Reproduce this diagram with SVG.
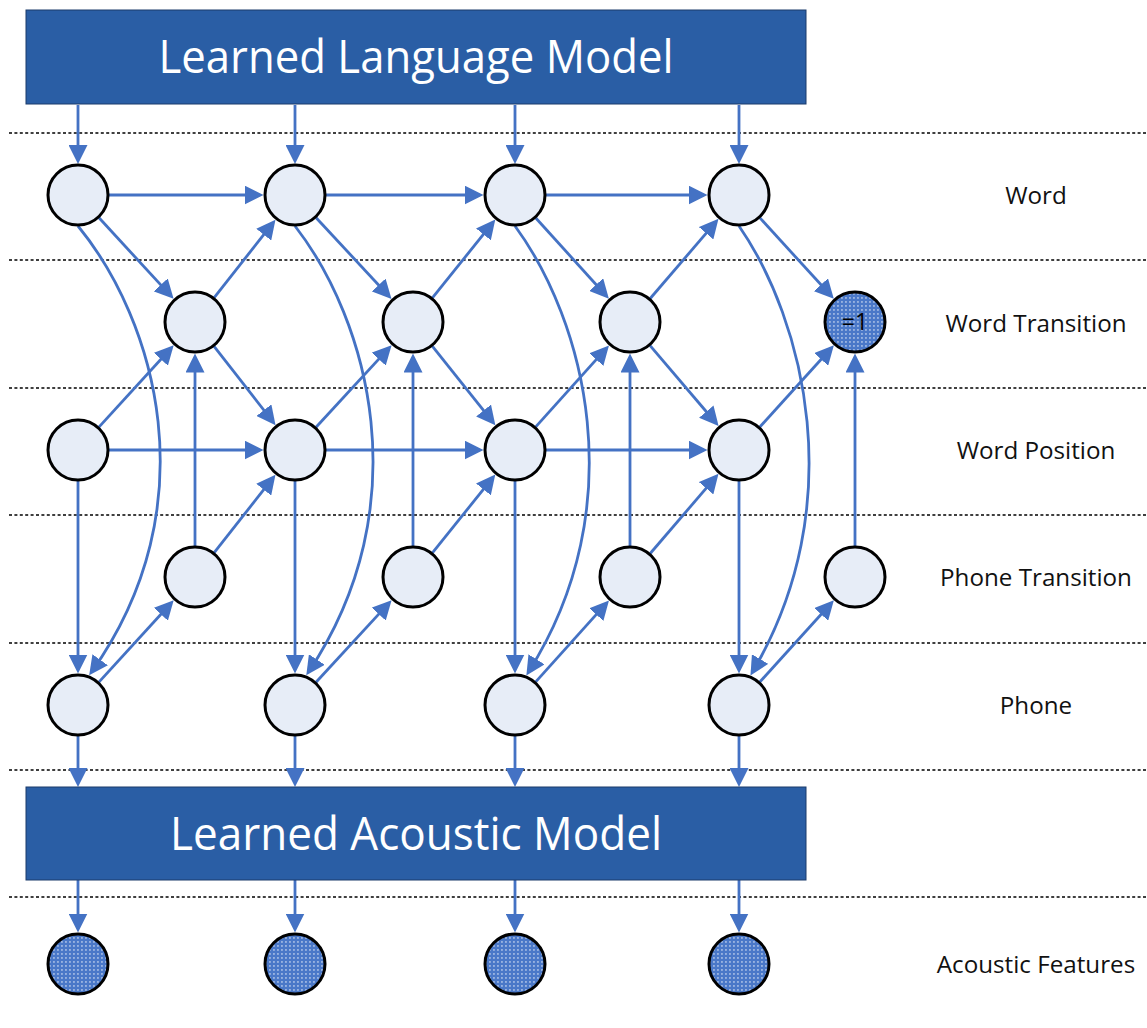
<svg xmlns="http://www.w3.org/2000/svg" width="1147" height="1028" viewBox="0 0 1147 1028">
  <style>
    .model { fill: #2A5EA5; stroke: #1B3B6B; stroke-width: 1; }
    .model-label { font-family: "Open Sans", "Liberation Sans", sans-serif; font-size: 45px; fill: #FFFFFF; text-anchor: middle; }
    .row-label { font-family: "Open Sans", "Liberation Sans", sans-serif; font-size: 24.2px; fill: #111111; text-anchor: middle; }
    .sep { stroke: #000000; stroke-width: 1.5; stroke-dasharray: 3 2.4; fill: none; }
    .node { fill: #E7EDF7; stroke: #000000; stroke-width: 3; }
    .obs { fill: url(#dots); stroke: #000000; stroke-width: 3; }
    .edge { stroke: #4472C4; stroke-width: 2.8; fill: none; marker-end: url(#ah); }
    .fixed { font-family: "Open Sans", "Liberation Sans", sans-serif; font-size: 23px; fill: #000000; text-anchor: middle; }
  </style>
  <defs>
    <marker id="ah" markerUnits="userSpaceOnUse" viewBox="0 0 19 19" markerWidth="19" markerHeight="19" refX="15" refY="9.5" orient="auto">
      <path d="M0,0 L19,9.5 L0,19 z" fill="#4472C4"/>
    </marker>
    <pattern id="dots" width="4" height="4" patternUnits="userSpaceOnUse">
      <rect width="4" height="4" fill="#4A78C8"/>
      <rect x="1.2" y="1.2" width="1.5" height="1.5" fill="#C3D3EE"/>
    </pattern>
  </defs>

  <rect width="1147" height="1028" fill="#FFFFFF"/>

  <!-- row separators -->
  <g id="separators">
    <line class="sep" x1="9" y1="133" x2="1147" y2="133"/>
    <line class="sep" x1="9" y1="260" x2="1147" y2="260"/>
    <line class="sep" x1="9" y1="388" x2="1147" y2="388"/>
    <line class="sep" x1="9" y1="515" x2="1147" y2="515"/>
    <line class="sep" x1="9" y1="643" x2="1147" y2="643"/>
    <line class="sep" x1="9" y1="770" x2="1147" y2="770"/>
    <line class="sep" x1="9" y1="897" x2="1147" y2="897"/>
  </g>

  <!-- row labels -->
  <g id="row-labels">
    <text class="row-label" x="1036" y="204">Word</text>
    <text class="row-label" x="1036" y="332">Word Transition</text>
    <text class="row-label" x="1036" y="459">Word Position</text>
    <text class="row-label" x="1036" y="586">Phone Transition</text>
    <text class="row-label" x="1036" y="714">Phone</text>
    <text class="row-label" x="1036" y="973">Acoustic Features</text>
  </g>

  <g id="connectors">
    <!-- language model to words -->
    <path class="edge" d="M78,105 L78,160"/>
    <path class="edge" d="M295,105 L295,160"/>
    <path class="edge" d="M515,105 L515,160"/>
    <path class="edge" d="M739,105 L739,160"/>

    <!-- word chain -->
    <path class="edge" d="M109,195 L259.5,195"/>
    <path class="edge" d="M326,195 L479.5,195"/>
    <path class="edge" d="M546,195 L703.5,195"/>

    <!-- word to word transition -->
    <path class="edge" d="M99,217.8 L170.9,295.9"/>
    <path class="edge" d="M316.1,217.7 L388.8,296"/>
    <path class="edge" d="M535.8,218 L606.2,295.7"/>
    <path class="edge" d="M759.9,217.9 L831.1,295.8"/>

    <!-- word transition to next word -->
    <path class="edge" d="M214.2,297.6 L273,222.9"/>
    <path class="edge" d="M432.4,297.8 L492.8,222.7"/>
    <path class="edge" d="M650.2,298.5 L715.9,221.9"/>

    <!-- word transition to next word position -->
    <path class="edge" d="M214.1,346.4 L273.1,422"/>
    <path class="edge" d="M432.3,346.2 L492.9,422.2"/>
    <path class="edge" d="M650.1,345.6 L716,423"/>

    <!-- word position to word transition -->
    <path class="edge" d="M98.9,427.1 L171,348.2"/>
    <path class="edge" d="M316,427.2 L388.9,348.1"/>
    <path class="edge" d="M535.7,426.9 L606.3,348.4"/>
    <path class="edge" d="M759.8,427 L831.2,348.3"/>

    <!-- word position chain -->
    <path class="edge" d="M109,450 L259.5,450"/>
    <path class="edge" d="M326,450 L479.5,450"/>
    <path class="edge" d="M546,450 L703.5,450"/>

    <!-- phone transition to word transition -->
    <path class="edge" d="M195,546 L195,357.5"/>
    <path class="edge" d="M413,546 L413,357.5"/>
    <path class="edge" d="M630,546 L630,357.5"/>
    <path class="edge" d="M855,546 L855,357.5"/>

    <!-- phone transition to next word position -->
    <path class="edge" d="M214.2,552.6 L273,477.9"/>
    <path class="edge" d="M432.4,552.8 L492.8,477.7"/>
    <path class="edge" d="M650.2,553.5 L715.9,476.9"/>

    <!-- word position to phone -->
    <path class="edge" d="M78,481 L78,669.5"/>
    <path class="edge" d="M295,481 L295,669.5"/>
    <path class="edge" d="M515,481 L515,669.5"/>
    <path class="edge" d="M739,481 L739,669.5"/>

    <!-- word to phone (curved) -->
    <path class="edge" d="M78,226 C155,320 210,505 91.5,672"/>
    <path class="edge" d="M295,226 C368,320 420,505 308.5,672"/>
    <path class="edge" d="M515,226 C584,320 634,505 528.5,672"/>
    <path class="edge" d="M739,226 C804,320 851,505 752.5,672"/>

    <!-- phone to phone transition -->
    <path class="edge" d="M98.9,682.1 L171,603.2"/>
    <path class="edge" d="M316,682.2 L388.9,603.1"/>
    <path class="edge" d="M535.7,681.9 L606.3,603.4"/>
    <path class="edge" d="M759.8,682 L831.2,603.3"/>

    <!-- phone to acoustic model -->
    <path class="edge" d="M78,736 L78,783"/>
    <path class="edge" d="M295,736 L295,783"/>
    <path class="edge" d="M515,736 L515,783"/>
    <path class="edge" d="M739,736 L739,783"/>

    <!-- acoustic model to features -->
    <path class="edge" d="M78,880 L78,928.5"/>
    <path class="edge" d="M295,880 L295,928.5"/>
    <path class="edge" d="M515,880 L515,928.5"/>
    <path class="edge" d="M739,880 L739,928.5"/>
  </g>

  <g id="language-model">
    <rect class="model" x="26" y="10" width="780" height="94"/>
    <text class="model-label" x="416" y="73" textLength="515" lengthAdjust="spacingAndGlyphs">Learned Language Model</text>
  </g>

  <g id="acoustic-model">
    <rect class="model" x="26" y="787" width="780" height="93"/>
    <text class="model-label" x="416" y="850" textLength="492" lengthAdjust="spacingAndGlyphs">Learned Acoustic Model</text>
  </g>

  <!-- word row -->
  <g id="word-1"><circle class="node" cx="78" cy="195" r="30"/></g>
  <g id="word-2"><circle class="node" cx="295" cy="195" r="30"/></g>
  <g id="word-3"><circle class="node" cx="515" cy="195" r="30"/></g>
  <g id="word-4"><circle class="node" cx="739" cy="195" r="30"/></g>

  <!-- word transition row -->
  <g id="word-transition-1"><circle class="node" cx="195" cy="322" r="30"/></g>
  <g id="word-transition-2"><circle class="node" cx="413" cy="322" r="30"/></g>
  <g id="word-transition-3"><circle class="node" cx="630" cy="322" r="30"/></g>
  <g id="word-transition-4">
    <circle class="obs" cx="855" cy="322" r="30"/>
    <text class="fixed" x="855" y="330">=1</text>
  </g>

  <!-- word position row -->
  <g id="word-position-1"><circle class="node" cx="78" cy="450" r="30"/></g>
  <g id="word-position-2"><circle class="node" cx="295" cy="450" r="30"/></g>
  <g id="word-position-3"><circle class="node" cx="515" cy="450" r="30"/></g>
  <g id="word-position-4"><circle class="node" cx="739" cy="450" r="30"/></g>

  <!-- phone transition row -->
  <g id="phone-transition-1"><circle class="node" cx="195" cy="577" r="30"/></g>
  <g id="phone-transition-2"><circle class="node" cx="413" cy="577" r="30"/></g>
  <g id="phone-transition-3"><circle class="node" cx="630" cy="577" r="30"/></g>
  <g id="phone-transition-4"><circle class="node" cx="855" cy="577" r="30"/></g>

  <!-- phone row -->
  <g id="phone-1"><circle class="node" cx="78" cy="705" r="30"/></g>
  <g id="phone-2"><circle class="node" cx="295" cy="705" r="30"/></g>
  <g id="phone-3"><circle class="node" cx="515" cy="705" r="30"/></g>
  <g id="phone-4"><circle class="node" cx="739" cy="705" r="30"/></g>

  <!-- observed acoustic features -->
  <g id="features-1"><circle class="obs" cx="78" cy="964" r="30"/></g>
  <g id="features-2"><circle class="obs" cx="295" cy="964" r="30"/></g>
  <g id="features-3"><circle class="obs" cx="515" cy="964" r="30"/></g>
  <g id="features-4"><circle class="obs" cx="739" cy="964" r="30"/></g>
</svg>
